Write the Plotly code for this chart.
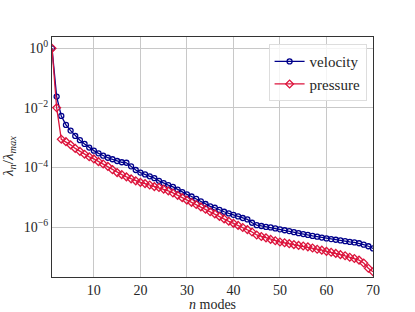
import plotly.graph_objects as go

n_modes = list(range(1, 71))

velocity = [
    1.0, 2.4e-2, 5.4e-3, 2.7e-3, 1.74e-3, 1.15e-3, 8.3e-4, 6.2e-4, 4.7e-4, 3.7e-4,
    3.0e-4, 2.5e-4, 2.14e-4, 1.9e-4, 1.66e-4, 1.51e-4, 1.45e-4, 1.10e-4, 8.3e-5, 6.8e-5,
    5.9e-5, 5.1e-5, 4.4e-5, 3.6e-5, 3.0e-5, 2.6e-5, 2.24e-5, 1.82e-5, 1.51e-5, 1.26e-5,
    1.07e-5, 8.9e-6, 7.4e-6, 6.0e-6, 5.0e-6, 4.5e-6, 3.8e-6, 3.3e-6, 2.9e-6, 2.6e-6,
    2.3e-6, 2.04e-6, 1.82e-6, 1.41e-6, 1.17e-6, 1.10e-6, 1.02e-6, 9.8e-7, 9.1e-7, 8.5e-7,
    7.9e-7, 7.4e-7, 6.8e-7, 6.3e-7, 5.9e-7, 5.5e-7, 5.1e-7, 4.8e-7, 4.5e-7, 4.2e-7,
    4.0e-7, 3.8e-7, 3.6e-7, 3.4e-7, 3.2e-7, 3.1e-7, 2.9e-7, 2.6e-7, 2.3e-7, 1.95e-7,
]

pressure = [
    1.0, 1.02e-2, 8.9e-4, 7.4e-4, 5.8e-4, 4.4e-4, 3.5e-4, 2.8e-4, 2.3e-4, 1.95e-4,
    1.58e-4, 1.32e-4, 1.10e-4, 8.5e-5, 6.8e-5, 5.8e-5, 4.9e-5, 4.2e-5, 3.6e-5, 3.2e-5,
    2.9e-5, 2.6e-5, 2.3e-5, 2.14e-5, 1.9e-5, 1.66e-5, 1.41e-5, 1.17e-5, 9.8e-6, 8.1e-6,
    6.8e-6, 5.8e-6, 4.8e-6, 4.0e-6, 3.3e-6, 2.8e-6, 2.3e-6, 1.9e-6, 1.58e-6, 1.35e-6,
    1.15e-6, 9.8e-7, 8.3e-7, 6.9e-7, 5.5e-7, 4.9e-7, 4.4e-7, 3.9e-7, 3.5e-7, 3.2e-7,
    3.0e-7, 2.8e-7, 2.6e-7, 2.45e-7, 2.34e-7, 2.2e-7, 2.0e-7, 1.82e-7, 1.7e-7, 1.55e-7,
    1.45e-7, 1.32e-7, 1.2e-7, 1.1e-7, 9.8e-8, 8.9e-8, 7.9e-8, 6.3e-8, 4.2e-8, 3.2e-8,
]

x_ticks = [10, 20, 30, 40, 50, 60, 70]
y_ticks = [1, 1e-2, 1e-4, 1e-6]
y_tick_text = ["10<sup>0</sup>", "10<sup>−2</sup>", "10<sup>−4</sup>", "10<sup>−6</sup>"]
x_title = "<i>n</i> modes"
y_title = "<i>λ<sub>n</sub></i>/<i>λ<sub>max</sub></i>"

FONT = "Liberation Serif"
TXT = "#262626"

fig = go.Figure()
fig.add_trace(go.Scatter(
    x=n_modes, y=velocity, name="velocity", mode="lines+markers",
    line=dict(color="#00008B", width=1.3),
    marker=dict(symbol="circle-open", size=5, color="#00008B", line=dict(width=1.3)),
))
fig.add_trace(go.Scatter(
    x=n_modes, y=pressure, name="pressure", mode="lines+markers",
    line=dict(color="#DC143C", width=1.3),
    marker=dict(symbol="diamond-open", size=6, color="#DC143C", line=dict(width=1.3)),
))

axis_common = dict(
    showline=True, linecolor="#333333", linewidth=1, mirror=True,
    showgrid=True, gridcolor="#C8C8C8", gridwidth=1, zeroline=False,
    ticks="", automargin=False,
    tickfont=dict(family=FONT, size=14, color=TXT),
)

fig.update_layout(
    width=415, height=312,
    margin=dict(l=52, r=42, t=37, b=35),
    paper_bgcolor="white", plot_bgcolor="white",
    font=dict(family=FONT, color=TXT),
    showlegend=True,
    legend=dict(
        x=0.98, y=0.97, xanchor="right", yanchor="top",
        bgcolor="rgba(255,255,255,0.8)", bordercolor="#DDDDDD", borderwidth=1,
        font=dict(family=FONT, size=15, color=TXT),
        itemwidth=30,
    ),
    xaxis=dict(range=[1, 70], tickvals=x_ticks, **axis_common),
    yaxis=dict(type="log", range=[-7.67, 0.38], tickvals=y_ticks, ticktext=y_tick_text, **axis_common),
    annotations=[
        dict(text=x_title, xref="paper", yref="paper", x=0.5, y=0,
             xanchor="center", yanchor="top", yshift=-18, showarrow=False,
             font=dict(family=FONT, size=14, color=TXT)),
        dict(text=y_title, xref="paper", yref="paper", x=0, y=0.5,
             xanchor="right", yanchor="middle", xshift=-32, textangle=-90, showarrow=False,
             font=dict(family=FONT, size=15, color=TXT)),
    ],
)

fig.write_html("out.html", config={"displayModeBar": False},
               post_script="document.body.style.margin='0';")
